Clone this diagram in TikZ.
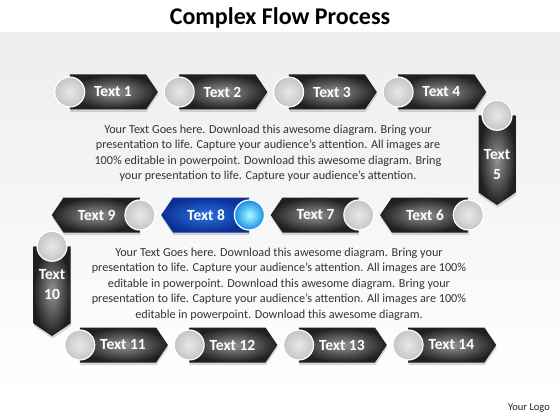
\documentclass[tikz,border=0pt]{standalone}
\usepackage{fontspec}
\setmainfont{Carlito}
\usetikzlibrary{positioning,shapes.symbols,shadows}

\definecolor{bluedark}{RGB}{12,48,150}
\definecolor{bluemid}{RGB}{40,115,225}
\definecolor{knobblue}{RGB}{25,140,230}

\begin{document}
\begin{tikzpicture}[x=1pt, y=-1pt,
  arr/.style={signal, signal from=nowhere, signal pointer angle=112,
              shading=radial, inner color=black!42, outer color=black!88,
              text=white, font=\fontsize{15.5}{20}\selectfont\bfseries,
              minimum width=88pt, minimum height=35pt, inner sep=0pt,
              drop shadow={shadow xshift=0.5pt, shadow yshift=-2.5pt, opacity=0.3}},
  arrr/.style={arr, execute at begin node=\hspace*{10pt}},
  arrl/.style={arr, signal to=west, execute at end node=\hspace*{10pt}},
  arrv/.style={arr, signal to=south, minimum width=37pt, minimum height=86pt, align=center},
  knob/.style={circle, minimum size=30pt, inner sep=0pt, shading=radial,
               inner color=gray!18, outer color=gray!45, draw=white, line width=1.2pt},
  para/.style={align=center, text=black!80, font=\fontsize{12.2}{15.5}\selectfont}]
  \useasboundingbox (0,0) rectangle (560,420);
  \fill[top color=gray!14, bottom color=white] (0,33) rectangle (560,395);

  \node[font=\fontsize{24}{28}\selectfont\bfseries] (title) at (280,18) {Complex Flow Process};

  \node[arrr] (t1) at (108,92) {Text 1};
  \node[arrr, right=21pt of t1] (t2) {Text 2};
  \node[arrr, right=21pt of t2] (t3) {Text 3};
  \node[arrr, right=21pt of t3] (t4) {Text 4};
  \node[arrv] (t5) at (497,154) {\rule{0pt}{11pt}\\Text\\5};
  \node[arrl] (t6) at (430,215) {Text 6};
  \node[arrl, left=21pt of t6] (t7) {Text 7};
  \node[arrl, left=21pt of t7, inner color=bluemid, outer color=bluedark] (t8) {Text 8};
  \node[arrl, left=21pt of t8] (t9) {Text 9};
  \node[arrv] (t10) at (52,285) {Text\\10};
  \node[arrr] (t11) at (118,345) {Text 11};
  \node[arrr, right=21pt of t11] (t12) {Text 12};
  \node[arrr, right=21pt of t12] (t13) {Text 13};
  \node[arrr, right=21pt of t13] (t14) {Text 14};

  \foreach \n/\a in {1/west,2/west,3/west,4/west,5/north,6/east,7/east,9/east,
                     10/north,11/west,12/west,13/west,14/west}
    \node[knob] (k\n) at (t\n.\a) {};
  \node[knob, inner color=cyan!35, outer color=knobblue] (k8) at (t8.east) {};

  \node[para] (p1) at (268,153) {Your Text Goes here. Download this awesome diagram. Bring your\\
    presentation to life. Capture your audience's attention. All images are\\
    100\% editable in powerpoint. Download this awesome diagram. Bring\\
    your presentation to life. Capture your audience's attention.};
  \node[para] (p2) at (279,284) {Your Text Goes here. Download this awesome diagram. Bring your\\
    presentation to life. Capture your audience's attention. All images are 100\%\\
    editable in powerpoint. Download this awesome diagram. Bring your\\
    presentation to life. Capture your audience's attention. All images are 100\%\\
    editable in powerpoint. Download this awesome diagram.};

  \node[font=\fontsize{10.5}{12}\selectfont, text=black!85] (logo) at (529,408) {Your Logo};
\end{tikzpicture}
\end{document}
